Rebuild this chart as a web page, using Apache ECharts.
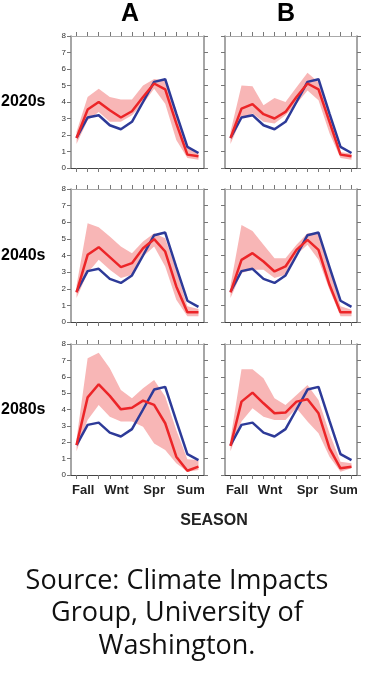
<!DOCTYPE html>
<html><head><meta charset="utf-8">
<script src="https://cdn.jsdelivr.net/npm/echarts@6/dist/echarts.min.js"></script>
<style>html,body{margin:0;padding:0;background:#fff}#c{width:369px;height:692px}</style>
</head><body><div id="c"></div>
<script>
// ---- data ----
const months = [0,1,2,3,4,5,6,7,8,9,10,11];
const seasonPos = [0.6, 3.6, 7.0, 10.3];
const seasonLabels = ['Fall','Wnt','Spr','Sum'];
const yTicks = [0,1,2,3,4,5,6,7,8];
const colTitles = ['A','B'];
const rowTitles = ['2020s','2040s','2080s'];
const historical = [1.82,3.06,3.2,2.59,2.35,2.8,4.0,5.22,5.38,3.3,1.28,0.91];

const red2020A = [1.82,3.54,4.0,3.5,3.06,3.44,4.3,5.12,4.76,2.7,0.81,0.71];
const lo2020A  = [1.45,2.9,3.4,2.8,2.8,3.2,3.9,4.8,3.9,1.7,0.6,0.5];
const hi2020A  = [2.2,4.3,4.8,4.3,4.15,4.15,5.0,5.4,5.3,3.5,1.2,0.97];

const red2020B = [1.82,3.6,3.87,3.26,3.0,3.4,4.3,5.12,4.76,2.8,0.81,0.71];
const lo2020B  = [1.45,3.0,3.3,2.8,2.7,3.2,3.9,4.7,4.1,2.1,0.6,0.5];
const hi2020B  = [2.2,5.0,4.96,3.8,4.25,4.0,4.9,5.77,5.2,3.3,0.97,0.87];

const red2040A = [1.78,4.04,4.5,3.9,3.3,3.54,4.44,4.98,4.24,2.14,0.58,0.58];
const lo2040A  = [1.45,2.94,3.74,3.14,2.64,2.84,3.94,4.54,3.34,1.34,0.34,0.34];
const hi2040A  = [2.2,5.94,5.7,5.14,4.54,4.14,4.84,5.34,5.04,3.14,0.94,0.78];

const red2040B = [1.78,3.74,4.14,3.64,3.04,3.34,4.34,4.94,4.34,2.24,0.58,0.58];
const lo2040B  = [1.45,2.94,3.14,3.14,2.64,2.84,4.04,4.64,3.74,1.94,0.34,0.34];
const hi2040B  = [2.2,5.84,5.48,4.64,3.84,3.84,4.64,5.34,5.34,3.34,0.94,0.74];

const red2080A = [1.83,4.74,5.54,4.83,4.01,4.11,4.54,4.28,3.16,1.12,0.26,0.51];
const lo2080A  = [1.45,3.36,4.28,3.56,3.26,3.26,2.95,1.93,1.53,0.71,0.2,0.3];
const hi2080A  = [2.2,7.13,7.47,6.52,5.19,4.68,5.3,5.8,4.79,2.75,0.96,0.92];

const red2080B = [1.77,4.48,5.03,4.38,3.77,3.81,4.48,4.62,3.77,1.63,0.41,0.51];
const lo2080B  = [1.45,3.26,4.07,3.56,3.36,3.36,4.07,3.26,2.55,1.12,0.2,0.41];
const hi2080B  = [2.2,6.46,6.46,5.91,4.68,4.28,4.89,5.5,4.58,2.55,0.81,0.71];

const panels = [
  {red: red2020A, lo: lo2020A, hi: hi2020A},
  {red: red2020B, lo: lo2020B, hi: hi2020B},
  {red: red2040A, lo: lo2040A, hi: hi2040A},
  {red: red2040B, lo: lo2040B, hi: hi2040B},
  {red: red2080A, lo: lo2080A, hi: hi2080A},
  {red: red2080B, lo: lo2080B, hi: hi2080B}
];

// ---- layout ----
const colLeft = [71, 225], colWidth = [133, 132];
const rowTop = [36, 189, 344], rowHeight = [132, 133, 131];
const BLUE = '#2d3a98', RED = '#ec2528', PINK = '#f8b6b6';
const FONT = 'Liberation Sans, Arial, sans-serif';

const grids = [], xAxes = [], yAxes = [], series = [];
panels.forEach((p, i) => {
  const r = Math.floor(i / 2), c = i % 2;
  grids.push({left: colLeft[c], top: rowTop[r], width: colWidth[c], height: rowHeight[r], show: false});
  const xb = xAxes.length;
  const tickStyle = {show: true, inside: false, length: 4, lineStyle: {color: '#777', width: 1}};
  xAxes.push({
    type: 'value', gridIndex: i, position: 'bottom', min: -0.5, max: 11.5,
    axisLine: {show: true, onZero: false, lineStyle: {color: '#444', width: 1.2}},
    axisTick: Object.assign({customValues: months}, tickStyle),
    axisLabel: {show: r === 2, customValues: seasonPos, margin: 9,
      formatter: v => seasonLabels[seasonPos.indexOf(v)] || '',
      fontFamily: FONT, fontWeight: 'bold', fontSize: 13, color: '#222'},
    splitLine: {show: false}
  });
  xAxes.push({
    type: 'value', gridIndex: i, position: 'top', min: -0.5, max: 11.5,
    axisLine: {show: true, onZero: false, lineStyle: {color: '#aaa', width: 1}},
    axisTick: Object.assign({customValues: months}, tickStyle),
    axisLabel: {show: false}, splitLine: {show: false}
  });
  const yl = yAxes.length;
  yAxes.push({
    type: 'value', gridIndex: i, position: 'left', min: 0, max: 8, interval: 1,
    axisLine: {show: true, onZero: false, lineStyle: {color: '#888', width: 1.5}},
    axisTick: tickStyle,
    axisLabel: {show: c === 0, fontFamily: FONT, fontSize: 8, color: '#333', margin: 5,
      customValues: yTicks},
    splitLine: {show: false}
  });
  yAxes.push({
    type: 'value', gridIndex: i, position: 'right', min: 0, max: 8, interval: 1,
    axisLine: {show: true, onZero: false, lineStyle: {color: '#888', width: 1.5}},
    axisTick: tickStyle, axisLabel: {show: false}, splitLine: {show: false}
  });
  series.push({
    type: 'custom', xAxisIndex: xb, yAxisIndex: yl, silent: true, z: 1,
    data: months.map((m, k) => [m, p.lo[k], p.hi[k]]),
    encode: {x: 0, y: [1, 2]},
    renderItem: (params, api) => {
      if (params.dataIndex !== 0) return null;
      const n = months.length, pts = [];
      for (let k = 0; k < n; k++) pts.push(api.coord([api.value(0, k), api.value(2, k)]));
      for (let k = n - 1; k >= 0; k--) pts.push(api.coord([api.value(0, k), api.value(1, k)]));
      return {type: 'polygon', shape: {points: pts}, style: {fill: PINK}};
    }
  });
  series.push({
    type: 'line', xAxisIndex: xb, yAxisIndex: yl, z: 3, symbol: 'none', silent: true,
    data: months.map((m, k) => [m, historical[k]]),
    lineStyle: {color: BLUE, width: 2.5}
  });
  series.push({
    type: 'line', xAxisIndex: xb, yAxisIndex: yl, z: 4, symbol: 'none', silent: true,
    data: months.map((m, k) => [m, p.red[k]]),
    lineStyle: {color: RED, width: 2.5}
  });
});

const graphic = [];
colTitles.forEach((t, c) => graphic.push({type: 'text',
  x: [130, 286][c], y: 14,
  style: {text: t, font: 'bold 25px ' + FONT, fill: '#000', textAlign: 'center', textVerticalAlign: 'middle'}}));
rowTitles.forEach((t, r) => graphic.push({type: 'text',
  x: 1, y: rowTop[r] + rowHeight[r] / 2,
  style: {text: t, font: 'bold 16px ' + FONT, fill: '#000', textAlign: 'left', textVerticalAlign: 'middle'}}));
graphic.push({type: 'text', x: 214, y: 521,
  style: {text: 'SEASON', font: 'bold 16px ' + FONT, fill: '#222', textAlign: 'center', textVerticalAlign: 'middle'}});
['Source: Climate Impacts', 'Group, University of', 'Washington.'].forEach((t, k) =>
  graphic.push({type: 'text', x: 177, y: [581, 613, 646][k],
    style: {text: t, font: '27px "Open Sans", sans-serif', fill: '#111', textAlign: 'center', textVerticalAlign: 'middle'}}));

const chart = echarts.init(document.getElementById('c'), null, {renderer: 'canvas'});
chart.setOption({animation: false, backgroundColor: '#fff', grid: grids, xAxis: xAxes, yAxis: yAxes, series, graphic});
</script></body></html>
